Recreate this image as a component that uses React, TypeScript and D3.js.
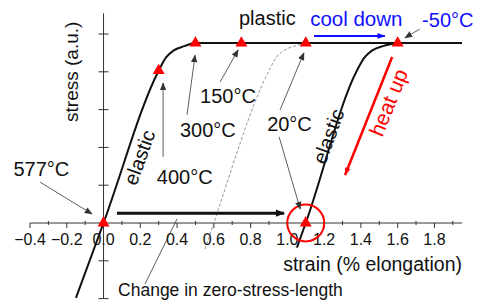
import * as d3 from 'd3';

const W = 477;
const H = 304;

// loading curve (577°C → -50°C side), strain vs stress (a.u.)
const loadStrain = [-0.15, 0, 0.3, 0.34, 0.38, 0.44, 0.5, 1.95];
const loadStress = [-1.98, 0, 4.03, 4.38, 4.56, 4.68, 4.76, 4.76];

// reloading after cooling (right elastic branch)
const reStrain = [1.052, 1.1, 1.38, 1.42, 1.46, 1.52, 1.6];
const reStress = [-0.65, 0, 4.05, 4.38, 4.56, 4.68, 4.76];

// dashed intermediate curve (ending at 20°C)
const midStrain = [0.553, 0.6, 0.9, 0.94, 0.98, 1.04, 1.1];
const midStress = [-0.69, 0, 4.03, 4.38, 4.56, 4.68, 4.76];

// red triangle markers
const markStrain = [0, 0.3, 0.5, 0.75, 1.1, 1.6, 1.1];
const markStress = [0, 4.03, 4.76, 4.76, 4.76, 4.76, 0];

const xTicks = [-0.4, -0.2, 0, 0.2, 0.4, 0.6, 0.8, 1.0, 1.2, 1.4, 1.6, 1.8];
const xMinor = [-0.3, -0.1, 0.1, 0.3, 0.5, 0.7, 0.9, 1.1, 1.3, 1.5, 1.7, 1.9];
const yTicks = [-2, -1, 1, 2, 3, 4, 5];

// temperature labels: [text, strain, stress, arrowFrom, arrowTo]
const tempLabels: [string, number, number, [number, number], [number, number]][] = [
  ['577°C', -0.49, 1.24, [-0.345, 1.08], [-0.063, 0.24]],
  ['400°C', 0.29, 1.03, [0.324, 1.75], [0.324, 3.7]],
  ['300°C', 0.416, 2.28, [0.454, 2.86], [0.498, 4.44]],
  ['150°C', 0.525, 3.17, [0.634, 3.73], [0.732, 4.58]],
  ['20°C', 0.89, 2.43, [0.96, 2.99], [1.09, 4.5]],
];

const toPts = (xs: number[], ys: number[]) => xs.map((v, i) => [v, ys[i]] as [number, number]);

export default function App() {
  const x = d3.scaleLinear().domain([-0.4, 1.95]).range([30, 462]);
  const y = d3.scaleLinear().domain([0, 5]).range([223, 34]);

  const line = d3.line<[number, number]>()
    .x(d => x(d[0]))
    .y(d => y(d[1]))
    .curve(d3.curveMonotoneX);

  const tri = d3.symbol().type(d3.symbolTriangle).size(62)();
  const font = 'Liberation Sans, Arial, sans-serif';
  const red = '#ff0000';
  const blue = '#1010ff';

  const arrow = (a: [number, number], b: [number, number], marker: string | null, stroke = '#333', sw = 0.8) => (
    <line x1={x(a[0])} y1={y(a[1])} x2={x(b[0])} y2={y(b[1])}
      stroke={stroke} strokeWidth={sw} markerEnd={marker ? `url(#${marker})` : undefined} />
  );

  const rotText = (txt: string, sx: number, sy: number, ang: number, fill: string, size: number) => (
    <text transform={`translate(${x(sx)},${y(sy)}) rotate(${ang})`} textAnchor="middle"
      dominantBaseline="middle" fill={fill} fontSize={size}>{txt}</text>
  );

  return (
    <div style={{ position: 'fixed', left: 0, top: 0 }}>
      <svg width={W} height={H} style={{ display: 'block', background: '#fff' }} fontFamily={font}>
        <defs>
          <marker id="hk" viewBox="0 0 10 10" refX="9" refY="5" markerWidth="8" markerHeight="8"
            markerUnits="userSpaceOnUse" orient="auto">
            <path d="M0,1 L10,5 L0,9 Z" fill="#333" />
          </marker>
          <marker id="hb" viewBox="0 0 10 10" refX="9" refY="5" markerWidth="11" markerHeight="8"
            markerUnits="userSpaceOnUse" orient="auto">
            <path d="M0,1.5 L10,5 L0,8.5 Z" fill={blue} />
          </marker>
          <marker id="hr" viewBox="0 0 10 10" refX="9" refY="5" markerWidth="12" markerHeight="8"
            markerUnits="userSpaceOnUse" orient="auto">
            <path d="M0,1.5 L10,5 L0,8.5 Z" fill={red} />
          </marker>
          <marker id="hK" viewBox="0 0 10 10" refX="9" refY="5" markerWidth="13" markerHeight="9"
            markerUnits="userSpaceOnUse" orient="auto">
            <path d="M0,1 L10,5 L0,9 Z" fill="#111" />
          </marker>
        </defs>

        {/* x axis */}
        <line x1={x(-0.4)} x2={x(1.95)} y1={y(0)} y2={y(0)} stroke="#333" strokeWidth={1} />
        {xTicks.map(t => (
          <g key={t}>
            <line x1={x(t)} x2={x(t)} y1={y(0)} y2={y(0) + 5} stroke="#333" />
            <text x={x(t)} y={y(0) + 22} textAnchor="middle" fontSize={16} fill="#111">{d3.format('.1f')(t)}</text>
          </g>
        ))}
        {xMinor.map(t => (
          <line key={t} x1={x(t)} x2={x(t)} y1={y(0) - 2} y2={y(0) + 2} stroke="#333" />
        ))}

        {/* y axis */}
        <line x1={x(0)} x2={x(0)} y1={y(5.55)} y2={y(-2)} stroke="#333" strokeWidth={1} />
        {yTicks.map(t => (
          <line key={t} x1={x(0) - 5} x2={x(0) + 5} y1={y(t)} y2={y(t)} stroke="#333" />
        ))}

        <text x={x(1.95)} y={y(0) + 48} textAnchor="end" fontSize={19.5} fill="#111">strain (% elongation)</text>
        <text transform={`translate(78,${y(4.0)}) rotate(-90)`} textAnchor="middle" fontSize={19} fill="#111">stress (a.u.)</text>

        {/* curves */}
        <path d={line(toPts(midStrain, midStress)) ?? ''} fill="none" stroke="#777" strokeWidth={0.8} strokeDasharray="3,2" />
        <path d={line(toPts(loadStrain, loadStress)) ?? ''} fill="none" stroke="#111" strokeWidth={2} />
        <path d={line(toPts(reStrain, reStress)) ?? ''} fill="none" stroke="#111" strokeWidth={2} />

        {/* zero-stress-length shift */}
        {arrow([0.073, 0.26], [0.982, 0.26], 'hK', '#111', 3)}
        {arrow([0.226, -1.61], [0.4, 0.11], null, '#333', 0.8)}
        <text x={x(0.079)} y={y(-1.93)} fontSize={17.5} fill="#111">Change in zero-stress-length</text>

        {/* red circle */}
        <circle cx={x(1.1)} cy={y(0)} r={18.5} fill="none" stroke={red} strokeWidth={2} />

        {/* temperature labels */}
        {tempLabels.map(([txt, sx, sy, a, b]) => (
          <g key={txt}>
            <text x={x(sx)} y={y(sy)} fontSize={20} fill="#111">{txt}</text>
            {arrow(a, b, 'hk')}
          </g>
        ))}
        {arrow([0.955, 2.28], [1.07, 0.37], 'hk')}

        <text x={x(0.737)} y={y(5.24)} fontSize={20} fill="#111">plastic</text>
        <text x={x(1.124)} y={y(5.21)} fontSize={20.5} fill={blue}>cool down</text>
        {arrow([1.145, 4.95], [1.53, 4.95], 'hb', blue, 2)}
        <text x={x(1.733)} y={y(5.19)} fontSize={20} fill={blue}>-50°C</text>
        {arrow([1.72, 5.13], [1.64, 4.9], 'hk')}

        {arrow([1.57, 4.39], [1.314, 1.27], 'hr', red, 2.5)}
        {rotText('heat up', 1.559, 3.17, -68, red, 21)}

        {rotText('elastic', 0.204, 1.72, -70, '#111', 20)}
        {rotText('elastic', 1.232, 2.28, -70, '#111', 20)}

        {/* markers */}
        {markStrain.map((s, i) => (
          <path key={i} d={tri ?? ''} transform={`translate(${x(s)},${y(markStress[i])})`} fill={red} />
        ))}
      </svg>
    </div>
  );
}
